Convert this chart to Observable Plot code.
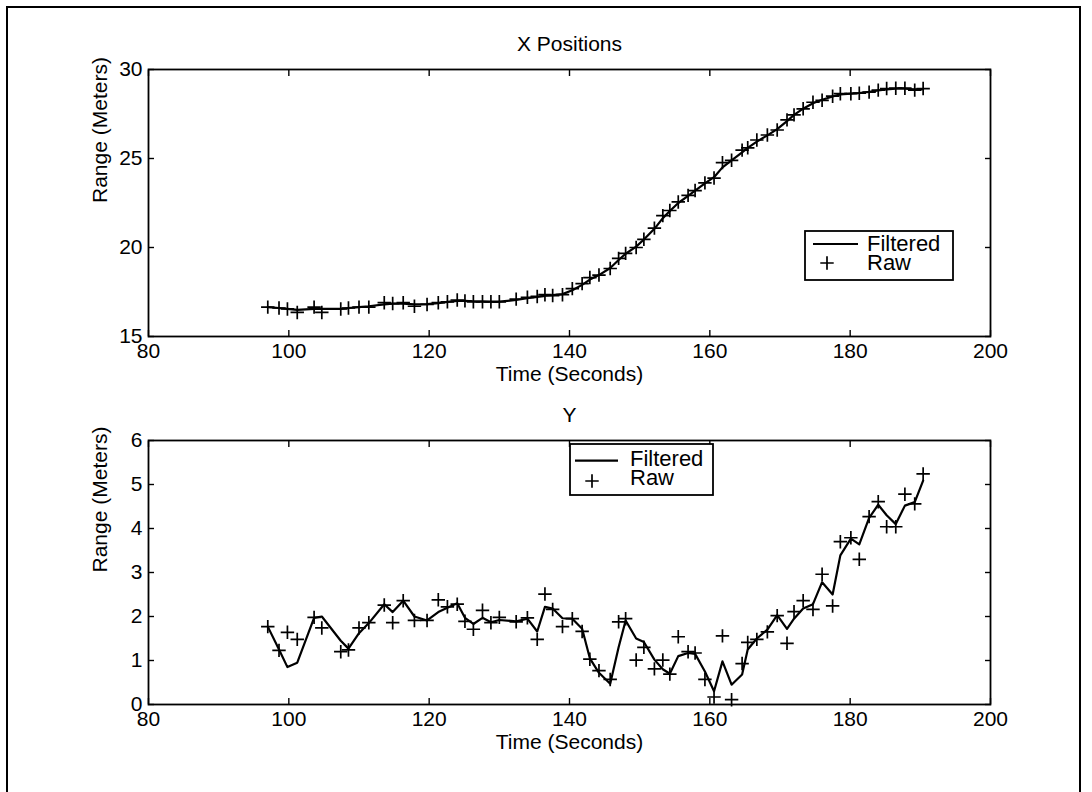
<!DOCTYPE html>
<html><head><meta charset="utf-8">
<script src="https://cdn.jsdelivr.net/npm/d3@7"></script>
<script src="https://cdn.jsdelivr.net/npm/@observablehq/plot@0.6"></script>
<style>
html,body{margin:0;padding:0;background:#fff;}
#wrap{position:relative;width:1092px;height:792px;overflow:hidden;font-family:"Liberation Sans",Arial,Helvetica,sans-serif;}
#border{position:absolute;left:6px;top:6px;width:1071px;height:800px;border:2px solid #000;border-bottom:none;}
#topPanel,#bottomPanel{position:absolute;left:0;}
#topPanel{top:0}
#bottomPanel{top:400px}
</style></head><body>
<div id="wrap"><div id="border"></div><div id="topPanel"></div><div id="bottomPanel"></div></div>
<script>
const times = [97.0, 98.6, 99.8, 101.2, 103.6, 104.7, 107.4, 108.5, 110.0, 111.4,
  113.6, 114.8, 116.3, 117.9, 119.7, 121.3, 122.6, 124.0, 125.1, 126.3,
  127.6, 128.8, 130.0, 132.4, 134.0, 135.4, 136.5, 137.6, 139.0, 140.4,
  141.8, 142.9, 144.2, 145.8, 147.0, 148.0, 149.5, 150.6, 152.1, 153.3,
  154.3, 155.5, 156.9, 157.9, 159.3, 160.6, 161.8, 163.1, 164.6, 165.4,
  166.7, 168.2, 169.6, 171.0, 172.0, 173.3, 174.7, 176.0, 177.5, 178.6,
  180.1, 181.3, 182.7, 184.0, 185.2, 186.5, 187.8, 189.2, 190.4];

const xRaw = [16.65, 16.60, 16.55, 16.35, 16.65, 16.35, 16.55, 16.60, 16.65, 16.65,
  16.90, 16.85, 16.90, 16.70, 16.80, 16.90, 16.95, 17.05, 17.00, 16.95,
  16.95, 16.95, 16.95, 17.10, 17.20, 17.25, 17.35, 17.30, 17.35, 17.69,
  17.97, 18.31, 18.45, 18.82, 19.39, 19.67, 20.00, 20.46, 21.09, 21.79,
  22.08, 22.56, 22.93, 23.20, 23.63, 23.90, 24.77, 24.90, 25.47, 25.60,
  26.04, 26.32, 26.60, 27.17, 27.45, 27.79, 28.16, 28.27, 28.50, 28.64,
  28.64, 28.67, 28.73, 28.84, 28.93, 28.95, 28.95, 28.84, 28.93];

const xFiltered = [16.65, 16.60, 16.55, 16.50, 16.55, 16.55, 16.55, 16.60, 16.65, 16.70,
  16.80, 16.85, 16.85, 16.80, 16.82, 16.88, 16.95, 17.00, 17.00, 16.98,
  16.97, 16.96, 16.96, 17.05, 17.15, 17.22, 17.30, 17.32, 17.38, 17.60,
  17.90, 18.20, 18.45, 18.85, 19.30, 19.65, 20.05, 20.45, 21.05, 21.65,
  22.05, 22.50, 22.90, 23.20, 23.60, 23.95, 24.50, 24.90, 25.35, 25.60,
  25.95, 26.30, 26.65, 27.10, 27.45, 27.80, 28.10, 28.30, 28.48, 28.60,
  28.65, 28.68, 28.74, 28.82, 28.88, 28.92, 28.92, 28.88, 28.90];

const yRaw = [1.77, 1.23, 1.64, 1.48, 1.98, 1.74, 1.20, 1.24, 1.74, 1.86,
  2.26, 1.86, 2.36, 1.91, 1.91, 2.38, 2.22, 2.28, 1.89, 1.71,
  2.14, 1.86, 1.98, 1.88, 1.97, 1.48, 2.51, 2.16, 1.77, 1.95,
  1.66, 1.03, 0.77, 0.57, 1.88, 1.95, 1.01, 1.30, 0.81, 1.01,
  0.69, 1.54, 1.20, 1.17, 0.57, 0.17, 1.56, 0.11, 0.93, 1.41,
  1.48, 1.65, 2.02, 1.39, 2.11, 2.36, 2.16, 2.96, 2.24, 3.70,
  3.79, 3.30, 4.27, 4.61, 4.04, 4.04, 4.78, 4.56, 5.24];

const yFiltered = [1.77, 1.25, 0.85, 0.95, 1.97, 2.00, 1.45, 1.27, 1.62, 1.85,
  2.28, 2.10, 2.36, 2.00, 1.91, 2.10, 2.20, 2.30, 1.97, 1.83,
  1.97, 1.87, 1.92, 1.89, 1.95, 1.66, 2.22, 2.18, 1.96, 1.95,
  1.72, 1.05, 0.72, 0.47, 1.30, 1.91, 1.50, 1.42, 1.02, 0.80,
  0.70, 1.10, 1.17, 1.15, 0.75, 0.30, 0.98, 0.45, 0.68, 1.25,
  1.50, 1.70, 2.03, 1.72, 1.95, 2.18, 2.28, 2.78, 2.50, 3.39,
  3.77, 3.64, 4.24, 4.54, 4.30, 4.10, 4.52, 4.60, 5.09];

const xTicks = [80, 100, 120, 140, 160, 180, 200];
const topYTicks = [15, 20, 25, 30];
const bottomYTicks = [0, 1, 2, 3, 4, 5, 6];
const titles = ["X Positions", "Y"];
const xLabel = "Time (Seconds)";
const yLabel = "Range (Meters)";
const legendLabels = ["Filtered", "Raw"];

const FONT = '"Liberation Sans", Arial, Helvetica, sans-serif';
const FS = 21;
const DOT_R = 4.4;

function panel({title, raw, filtered, yDomain, yTicks, height, marginTop, marginBottom}) {
  const rawData = times.map((t, i) => ({t, v: raw[i]}));
  const filtData = times.map((t, i) => ({t, v: filtered[i]}));
  return Plot.plot({
    width: 1092, height, marginLeft: 148, marginRight: 102, marginTop, marginBottom,
    style: {fontFamily: FONT, fontSize: FS + "px", color: "#000", background: "transparent", overflow: "visible"},
    x: {domain: [80, 200]},
    y: {domain: yDomain},
    marks: [
      Plot.frame({stroke: "#000", strokeWidth: 1.8}),
      Plot.axisX(xTicks, {anchor: "bottom", tickSize: 6, dy: -6, fill: "none", label: null, stroke: "#000", strokeWidth: 1.4}),
      Plot.axisX(xTicks, {anchor: "top", tickSize: 6, dy: 6, fill: "none", label: null, stroke: "#000", strokeWidth: 1.4}),
      Plot.axisX(xTicks, {anchor: "bottom", tickSize: 0, tickPadding: 7, label: null, fontSize: FS, fill: "#000"}),
      Plot.axisY(yTicks, {anchor: "left", tickSize: 6, dx: 6, fill: "none", label: null, stroke: "#000", strokeWidth: 1.4}),
      Plot.axisY(yTicks, {anchor: "right", tickSize: 6, dx: -6, fill: "none", label: null, stroke: "#000", strokeWidth: 1.4}),
      Plot.axisY(yTicks, {anchor: "left", tickSize: 0, tickPadding: 6, label: null, fontSize: FS, fill: "#000"}),
      Plot.line(filtData, {x: "t", y: "v", stroke: "#000", strokeWidth: 2.2}),
      Plot.dot(rawData, {x: "t", y: "v", symbol: "plus", r: DOT_R, stroke: "#000", strokeWidth: 1.7}),
      Plot.text([title], {text: d => d, frameAnchor: "top", dy: -19, lineAnchor: "bottom", fontSize: FS, fill: "#000"}),
      Plot.text([xLabel], {text: d => d, frameAnchor: "bottom", dy: 44, lineAnchor: "bottom", fontSize: FS, fill: "#000"}),
      Plot.text([yLabel], {text: d => d, frameAnchor: "left", dx: -42, rotate: -90, lineAnchor: "bottom", fontSize: FS, fill: "#000"})
    ]
  });
}

function addLegend(svg, L) {
  const g = d3.select(svg).append("g").attr("text-anchor", "start");
  g.append("rect").attr("x", L.x0).attr("y", L.y0).attr("width", L.x1 - L.x0).attr("height", L.y1 - L.y0)
    .attr("fill", "#fff").attr("stroke", "#000").attr("stroke-width", 1.8);
  g.append("line").attr("x1", L.lx0).attr("x2", L.lx1).attr("y1", L.ly).attr("y2", L.ly)
    .attr("stroke", "#000").attr("stroke-width", 2.2);
  g.append("path").attr("d", d3.symbol(d3.symbolPlus, DOT_R * DOT_R * Math.PI)())
    .attr("transform", `translate(${L.px},${L.py})`).attr("fill", "none").attr("stroke", "#000").attr("stroke-width", 1.7);
  g.append("text").attr("x", L.tx).attr("y", L.fy).text(legendLabels[0]).attr("text-anchor", "start")
    .attr("font-family", FONT).attr("font-size", 22).attr("fill", "#000");
  g.append("text").attr("x", L.tx).attr("y", L.ry).text(legendLabels[1]).attr("text-anchor", "start")
    .attr("font-family", FONT).attr("font-size", 22).attr("fill", "#000");
}

const topChart = panel({title: titles[0], raw: xRaw, filtered: xFiltered, yDomain: [15, 30], yTicks: topYTicks,
  height: 400, marginTop: 69, marginBottom: 64});
addLegend(topChart, {x0: 805, y0: 231, x1: 953, y1: 280, lx0: 813, lx1: 858, ly: 244, px: 827, py: 263, tx: 867, fy: 251, ry: 269.5});
document.getElementById("topPanel").appendChild(topChart);

const bottomChart = panel({title: titles[1], raw: yRaw, filtered: yFiltered, yDomain: [0, 6], yTicks: bottomYTicks,
  height: 392, marginTop: 40, marginBottom: 88});
addLegend(bottomChart, {x0: 570, y0: 44, x1: 713, y1: 95, lx0: 575, lx1: 618, ly: 60.7, px: 592, py: 81, tx: 630, fy: 66, ry: 85});
document.getElementById("bottomPanel").appendChild(bottomChart);
</script>
</body></html>
